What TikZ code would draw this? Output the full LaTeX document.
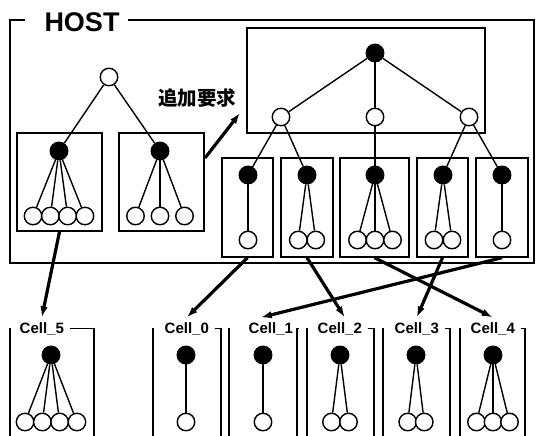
\documentclass[tikz,border=0pt]{standalone}
\usepackage{fontspec}
\setsansfont{Liberation Sans}
\newfontfamily\jpfont{Noto Sans CJK JP}
\usetikzlibrary{fit}
\usetikzlibrary{arrows.meta}

\tikzset{
  fullnode/.style = {circle, draw, fill = black, minimum size = 17.5pt, inner sep = 0pt},
  emptynode/.style = {circle, draw, fill = white, minimum size = 17.5pt, inner sep = 0pt},
  boxframe/.style = {draw, inner sep = 0pt},
  move/.style = {line width = 3.2pt, -{Latex[length = 11pt, width = 7.5pt]}},
  celllabel/.style = {font = \sffamily\bfseries\fontsize{15}{15}\selectfont,
    anchor = base west, inner xsep = 1pt, inner ysep = 4pt},
}

% black node on top, #5 children below it, #6 apart
\newcommand{\subtree}[6]{%
  \node[fullnode] (#1) at (#2, #3) {};
  \foreach \i in {1, ..., #5}{
    \node[emptynode] (#1-\i) at ({#2 + (\i - (#5 + 1) / 2) * #6}, #4) {};
    \draw (#1) -- (#1-\i);
  }
}

\begin{document}
\begin{tikzpicture}[x = 1pt, y = -1pt, line width = 1.4pt]
  \useasboundingbox (0, 0) rectangle (536, 436);

  % host frame
  \node[font = \sffamily\bfseries\fontsize{27}{27}\selectfont, inner sep = 0pt]
    (host) at (82, 22) {HOST};
  \draw[line width = 1.8pt] (25, 20) -- (10, 20) -- (10, 263) -- (534, 263)
    -- (534, 20) -- (128, 20);

  % left tree
  \node[emptynode] (lroot) at (109, 77) {};
  \node[boxframe, fit = {(17, 133) (102, 231)}] (boxL) {};
  \node[boxframe, fit = {(119, 133) (204, 231)}] (boxM) {};
  \subtree{l1}{59}{151}{216}{4}{17.3}
  \subtree{l2}{160}{151}{216}{3}{24.5}
  \draw (lroot) -- (l1);
  \draw (lroot) -- (l2);

  % right tree
  \node[boxframe, fit = {(247, 28) (485, 133)}] (boxT) {};
  \subtree{top}{375}{53}{117}{3}{94}
  \foreach \b/\xl/\xr in {A/222/273, B/281/333, C/340/409, D/417/468, E/476/528}{
    \node[boxframe, fit = {(\xl, 158) (\xr, 257)}] (box\b) {};
  }
  \subtree{a}{248}{175}{240}{1}{17}
  \subtree{b}{307}{175}{240}{2}{17.5}
  \subtree{c}{375}{175}{240}{3}{17.5}
  \subtree{d}{443}{175}{240}{2}{18}
  \subtree{e}{502}{175}{240}{1}{17}
  \draw (top-1) -- (a);
  \draw (top-1) -- (b);
  \draw (top-2) -- (c);
  \draw (top-3) -- (d);
  \draw (top-3) -- (e);

  \node[font = \jpfont\bfseries\fontsize{19.5}{19.5}\selectfont, inner sep = 0pt]
    (req) at (197, 98) {追加要求};
  \coordinate (reqfrom) at (205, 158);
  \coordinate (reqto) at (240, 113);
  \draw[move] (reqfrom) -- (reqto);

  % cells
  \foreach \n/\t/\l/\r/\lab/\x/\k/\s in {c5/5/10/94/18/51/4/17.3,
    c0/0/153/221/163/186/1/17, c1/1/229/297/247/263/1/17,
    c2/2/307/374/316/340/2/17, c3/3/383/450/393/416/2/16.5,
    c4/4/460/525/469/493/3/16.5}{
    \node[celllabel] (\n) at (\lab, 333) {Cell\_\t};
    \draw (\l, 328) -- (\l, 440);
    \draw ([xshift = 4pt]\n.east) -| (\r, 440);
    \subtree{\n t}{\x}{355}{422}{\k}{\s}
  }

  \draw[move] (boxL.south) -- (c5.north);
  \draw[move] (boxA.south) -- (c0.north);
  \draw[move] (boxB.south) -- ([xshift = 5pt]c2.north);
  \draw[move] (boxC.south) -- (c4.north);
  \draw[move] (boxD.south) -- (c3.north);
  \draw[move] (boxE.south) -- ([xshift = -10pt]c1.north);
\end{tikzpicture}
\end{document}
